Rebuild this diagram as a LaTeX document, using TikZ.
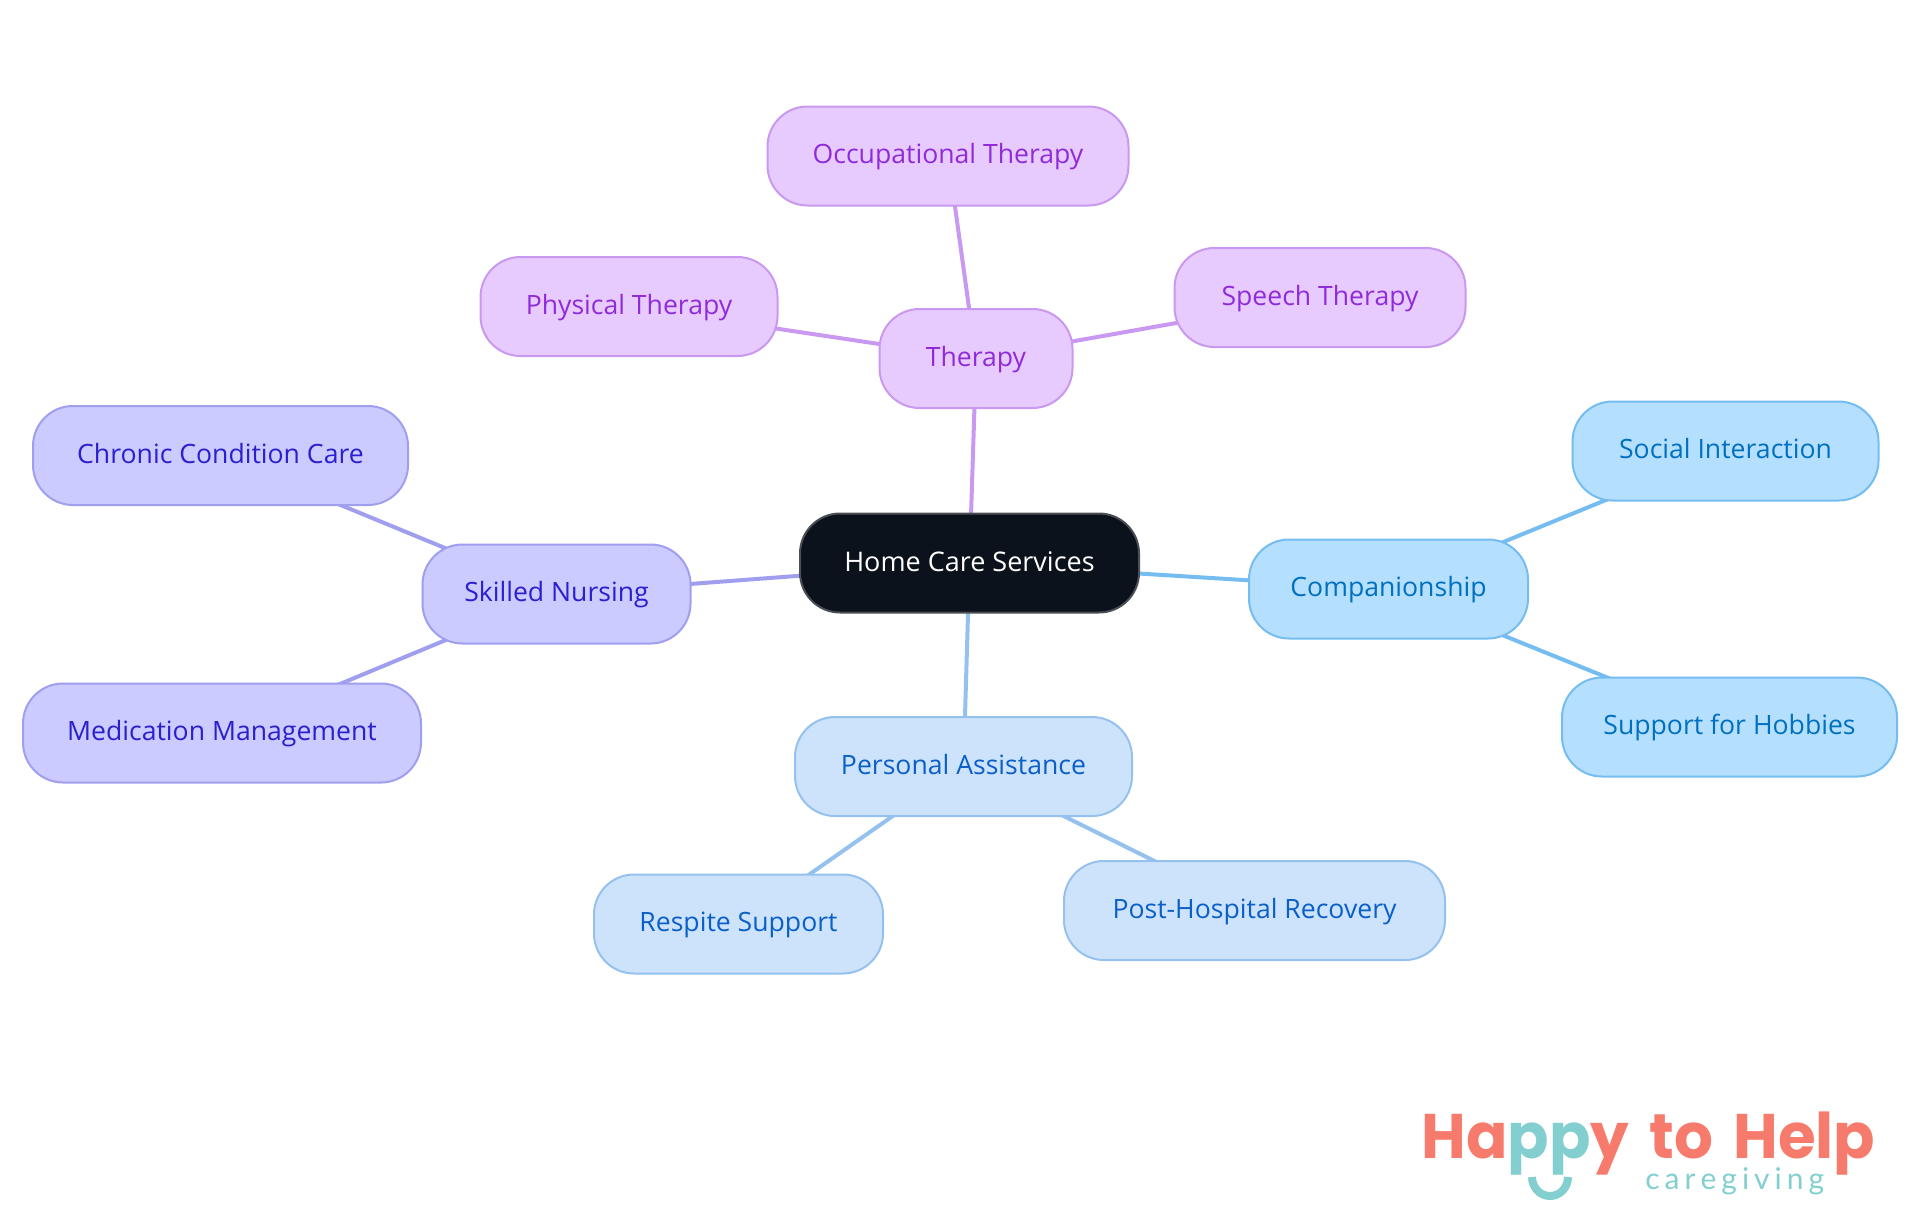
\documentclass[tikz,border=0pt]{standalone}
\usepackage{fontspec}
\setmainfont{Open Sans}
\newfontfamily\logofont{Poppins}[UprightFont=* Bold,FakeStretch=0.97]
\newfontfamily\logolight{Lato}
\usetikzlibrary{backgrounds}
\definecolor{thFill}{HTML}{E8CBFE}\definecolor{thLine}{HTML}{C998F0}\definecolor{thText}{HTML}{8F2BDB}
\definecolor{snFill}{HTML}{CBCBFF}\definecolor{snLine}{HTML}{A09FEF}\definecolor{snText}{HTML}{2B1FCF}
\definecolor{coFill}{HTML}{B5DFFF}\definecolor{coLine}{HTML}{75BDF0}\definecolor{coText}{HTML}{0070C0}
\definecolor{paFill}{HTML}{CDE3FB}\definecolor{paLine}{HTML}{95C1EE}\definecolor{paText}{HTML}{0B5FC8}
\definecolor{hubFill}{HTML}{0B121B}\definecolor{hubLine}{HTML}{4A4F55}
\definecolor{coral}{HTML}{F77B6C}\definecolor{teal}{HTML}{83CFCF}
\tikzset{
  pill/.style={rounded corners=20pt,line width=1pt,minimum height=49.5pt,inner sep=0pt,text height=10.5pt,text depth=3pt,font=\fontsize{13.3}{16}\selectfont},
  hub/.style={pill,fill=hubFill,draw=hubLine,text=white,minimum height=49.5pt,text height=11.2pt,font=\fontsize{13.5}{16}\selectfont},
  th/.style={pill,fill=thFill,draw=thLine,text=thText},
  sn/.style={pill,fill=snFill,draw=snLine,text=snText},
  co/.style={pill,fill=coFill,draw=coLine,text=coText},
  pa/.style={pill,fill=paFill,draw=paLine,text=paText},
  link/.style={line width=2pt}
}
\begin{document}
\begin{tikzpicture}[x=0.5pt,y=-0.5pt]
\useasboundingbox (0,0) rectangle (1920,1215);
\node[hub,minimum width=169.5pt] (home) at (969.5,563) {Home Care Services};
\node[th,minimum width=96.5pt] (therapy) at (976,358.5) {Therapy};
\node[th,minimum width=148.5pt] (physical) at (629,306.5) {Physical Therapy};
\node[th,minimum width=145.5pt] (speech) at (1320,297.5) {Speech Therapy};
\node[th,minimum width=180.5pt] (occupational) at (948,156) {Occupational Therapy};
\node[sn,minimum width=134pt] (skilled) at (556.5,594) {Skilled Nursing};
\node[sn,minimum width=187.5pt] (chronic) at (220.5,455.5) {Chronic Condition Care};
\node[sn,minimum width=199pt] (medication) at (222,733) {Medication Management};
\node[co,minimum width=139.5pt] (companion) at (1388.5,589) {Companionship};
\node[co,minimum width=153pt] (social) at (1725.5,451) {Social Interaction};
\node[co,minimum width=167.5pt] (hobbies) at (1729.5,727) {Support for Hobbies};
\node[pa,minimum width=168.5pt] (personal) at (963.5,766.5) {Personal Assistance};
\node[pa,minimum width=144.5pt] (respite) at (738.5,924) {Respite Support};
\node[pa,minimum width=190.5pt] (recovery) at (1254.5,910.5) {Post-Hospital Recovery};
\begin{scope}[on background layer]
\draw[link,thLine] (home.center) -- (therapy.center);
\draw[link,thLine] (therapy.center) -- (physical.center);
\draw[link,thLine] (therapy.center) -- (speech.center);
\draw[link,thLine] (therapy.center) -- (occupational.center);
\draw[link,snLine] (home.center) -- (skilled.center);
\draw[link,snLine] (skilled.center) -- (chronic.center);
\draw[link,snLine] (skilled.center) -- (medication.center);
\draw[link,coLine] (home.center) -- (companion.center);
\draw[link,coLine] (companion.center) -- (social.center);
\draw[link,coLine] (companion.center) -- (hobbies.center);
\draw[link,paLine] (home.center) -- (personal.center);
\draw[link,paLine] (personal.center) -- (respite.center);
\draw[link,paLine] (personal.center) -- (recovery.center);
\end{scope}
\node[anchor=base west,inner sep=0pt,text=coral,font=\logofont\fontsize{31.5}{36}\selectfont] (logo) at (1421,1158) {Ha\textcolor{teal}{pp}y\hspace{3.7pt} to\hspace{3.7pt} Help};
\node[anchor=base west,inner sep=0pt,text=teal,font=\logolight\fontsize{15}{18}\selectfont] (tagline) at (1645,1189) {c\,a\,r\,e\,g\,i\,v\,i\,n\,g};
\draw[teal,line width=4pt] (1532,1177) arc[start angle=180,end angle=0,x radius=18,y radius=19];
\end{tikzpicture}
\end{document}
